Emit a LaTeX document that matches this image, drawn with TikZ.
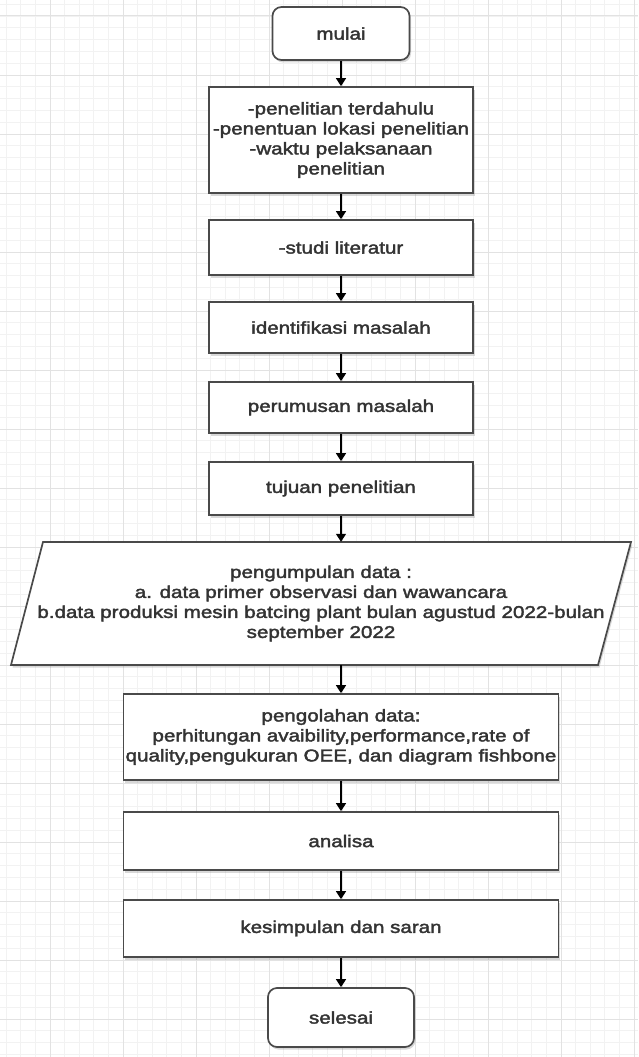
\documentclass[tikz,border=0pt]{standalone}
\usepackage{fontspec}
\newfontfamily\flowfont{Liberation Sans}[FakeStretch=1.21,FakeBold=2.2]
\usepackage{tikz}
\usetikzlibrary{arrows.meta,shadows}
\definecolor{gridminor}{HTML}{F2F2F2}
\definecolor{gridmajor}{HTML}{E2E2E2}
\definecolor{edge}{HTML}{4A4A4A}

\begin{document}
\begin{tikzpicture}[x=1pt,y=-1pt,
    box/.style={draw=edge, line width=1.7pt, fill=white, inner sep=1pt,
        minimum width=264pt, minimum height=53pt, align=center,
        font=\flowfont\fontsize{17}{20}\selectfont, text=black!80,
        drop shadow={shadow xshift=1.5pt, shadow yshift=-2.5pt, opacity=0.3}},
    term/.style={box, rounded corners=9pt, minimum width=137pt},
    iobox/.style={draw=edge, line width=1.7pt, fill=white,
        drop shadow={shadow xshift=1.5pt, shadow yshift=-2.5pt, opacity=0.3}},
    iotext/.style={align=center, inner sep=0pt, minimum width=620pt, minimum height=123pt,
        font=\flowfont\fontsize{17}{20}\selectfont, text=black!80},
    flow/.style={-{Triangle[length=8pt,width=10pt]}, line width=1.4pt, black}]

    \useasboundingbox (0,0) rectangle (638,1057);
    \fill[white] (0,0) rectangle (638,1057);

    % grid
    \foreach \i in {0,...,45}
        \draw[gridminor, line width=0.8pt] ({-23+14.6*\i},0) -- ++(0,1057);
    \foreach \j in {-1,...,88}
        \draw[gridminor, line width=0.8pt] (0,{16+11.8*\j}) -- ++(638,0);
    \foreach \i in {0,...,9}
        \draw[gridmajor, line width=1pt] ({-23+73*\i},0) -- ++(0,1057);
    \foreach \j in {0,...,17}
        \draw[gridmajor, line width=1pt] (0,{16+59*\j}) -- ++(638,0);

    \node[term] (mulai) at (341,33.5) {mulai};
    \node[box, minimum height=106pt] (awal) at (341,140) {-penelitian terdahulu\\-penentuan lokasi penelitian\\-waktu pelaksanaan\\penelitian};
    \node[box, minimum height=55pt] (studi) at (341,247.5) {-studi literatur};
    \node[box, minimum height=51pt] (identifikasi) at (341,327.5) {identifikasi masalah};
    \node[box, minimum height=51pt] (rumusan) at (341,407.5) {perumusan masalah};
    \node[box] (tujuan) at (341,488.5) {tujuan penelitian};

    % data input (parallelogram)
    \coordinate (kumpulpos) at (321,603.5);
    \path[iobox] ([xshift=-278pt,yshift=61.5pt]kumpulpos) -- ([xshift=310pt,yshift=61.5pt]kumpulpos)
        -- ([xshift=277pt,yshift=-61.5pt]kumpulpos) -- ([xshift=-310pt,yshift=-61.5pt]kumpulpos) -- cycle;
    \node[iotext] (kumpul) at (kumpulpos) {pengumpulan data :\\a. data primer observasi dan wawancara\\b.data produksi mesin batcing plant bulan agustud 2022-bulan\\september 2022};

    \node[box, minimum width=435pt, minimum height=86pt] (olah) at (341,737) {pengolahan data:\\perhitungan avaibility,performance,rate of\\quality,pengukuran OEE, dan diagram fishbone};
    \node[box, minimum width=435pt, minimum height=58pt] (analisa) at (341,841) {analisa};
    \node[box, minimum width=435pt, minimum height=57pt] (simpul) at (341,928.5) {kesimpulan dan saran};
    \node[term, minimum width=146pt, minimum height=59pt] (selesai) at (341,1017.5) {selesai};

    \draw[flow] (mulai) -- (awal);
    \draw[flow] (awal) -- (studi);
    \draw[flow] (studi) -- (identifikasi);
    \draw[flow] (identifikasi) -- (rumusan);
    \draw[flow] (rumusan) -- (tujuan);
    \draw[flow] (tujuan) -- (tujuan |- kumpul.north);
    \draw[flow] (kumpul.south -| olah) -- (olah);
    \draw[flow] (olah) -- (analisa);
    \draw[flow] (analisa) -- (simpul);
    \draw[flow] (simpul) -- (selesai);
\end{tikzpicture}
\end{document}
